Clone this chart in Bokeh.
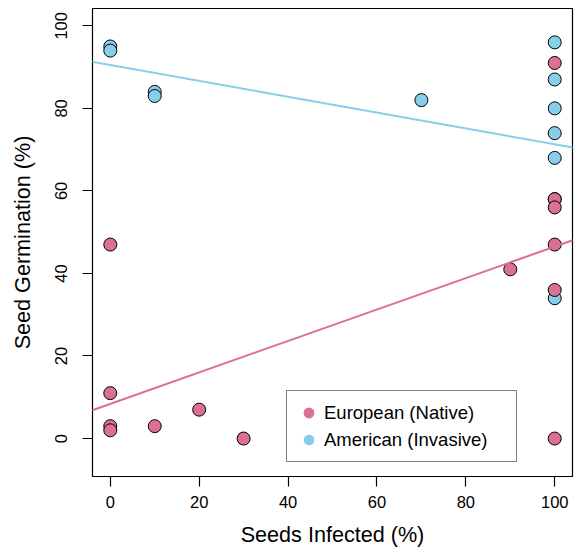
from bokeh.plotting import figure
from bokeh.models import Range1d, FixedTicker, Legend, LegendItem, Slope, ColumnDataSource
from bokeh.embed import file_html
from bokeh.resources import INLINE

# ---- data ----
eu_infected = [0, 0, 0, 0, 10, 20, 30, 90, 100, 100, 100, 100, 100, 100, 100]
eu_germination = [47, 11, 3, 2, 3, 7, 0, 41, 91, 58, 58, 56, 47, 36, 0]
am_infected = [0, 0, 10, 10, 70, 100, 100, 100, 100, 100, 100]
am_germination = [95, 94, 84, 83, 82, 96, 87, 80, 74, 68, 34]

eu_intercept, eu_slope = 8.4, 0.381
am_intercept, am_slope = 90.5, -0.192

x_ticks = [0, 20, 40, 60, 80, 100]
y_ticks = [0, 20, 40, 60, 80, 100]
series_labels = ["European (Native)", "American (Invasive)"]

PINK = "#DB7093"
BLUE = "#87CEEB"
FONT = "Liberation Sans"

p = figure(frame_width=480, frame_height=468,
           min_border_left=92, min_border_right=5, min_border_top=8, min_border_bottom=72,
           x_range=Range1d(-4, 104), y_range=Range1d(-5.0 - 0.04 * 105, 100 + 0.04 * 105),
           output_backend="svg", toolbar_location=None,
           x_axis_label="Seeds Infected (%)", y_axis_label="Seed Germination (%)")

p.background_fill_color = "white"
p.border_fill_color = "white"
p.outline_line_color = "black"
p.outline_line_width = 1.2
p.grid.visible = False

for ax, ticks in ((p.xaxis[0], x_ticks), (p.yaxis[0], y_ticks)):
    ax.ticker = FixedTicker(ticks=ticks)
    ax.axis_line_color = None
    ax.major_tick_in = 0
    ax.major_tick_out = 10
    ax.major_tick_line_color = "black"
    ax.major_tick_line_width = 1.2
    ax.minor_tick_line_color = None
    ax.major_label_text_font = FONT
    ax.major_label_text_font_size = "16.5px"
    ax.major_label_text_color = "black"
    ax.axis_label_text_font = FONT
    ax.axis_label_text_font_size = "21.6px"
    ax.axis_label_text_font_style = "normal"
    ax.axis_label_text_color = "black"

p.yaxis.major_label_orientation = "vertical"
p.xaxis.major_label_standoff = 9
p.yaxis.major_label_standoff = 15
p.xaxis.axis_label_standoff = 11
p.yaxis.axis_label_standoff = 18

# regression lines
p.add_layout(Slope(gradient=am_slope, y_intercept=am_intercept, line_color=BLUE, line_width=2))
p.add_layout(Slope(gradient=eu_slope, y_intercept=eu_intercept, line_color=PINK, line_width=2))

am_src = ColumnDataSource(dict(x=am_infected, y=am_germination))
eu_src = ColumnDataSource(dict(x=eu_infected, y=eu_germination))

# plain filled dots (used for the legend glyphs; hidden beneath the outlined points)
leg_am = p.scatter("x", "y", source=am_src, size=11, fill_color=BLUE, line_color=None)
leg_eu = p.scatter("x", "y", source=eu_src, size=11, fill_color=PINK, line_color=None)

p.scatter("x", "y", source=am_src, size=13, fill_color=BLUE, line_color="black", line_width=1)
p.scatter("x", "y", source=eu_src, size=13, fill_color=PINK, line_color="black", line_width=1)

legend = Legend(items=[LegendItem(label=series_labels[0], renderers=[leg_eu]),
                       LegendItem(label=series_labels[1], renderers=[leg_am])],
                location=(194, 14), orientation="vertical",
                padding=8, spacing=0, margin=0,
                glyph_width=27, glyph_height=27, label_height=27,
                label_standoff=2, label_width=184,
                label_text_font=FONT, label_text_font_size="18.5px",
                label_text_color="black", label_text_baseline="middle",
                border_line_color="black", border_line_width=1.2,
                background_fill_color="white", background_fill_alpha=1.0)
p.add_layout(legend, "center")

open("out.html", "w").write(file_html(p, INLINE))
